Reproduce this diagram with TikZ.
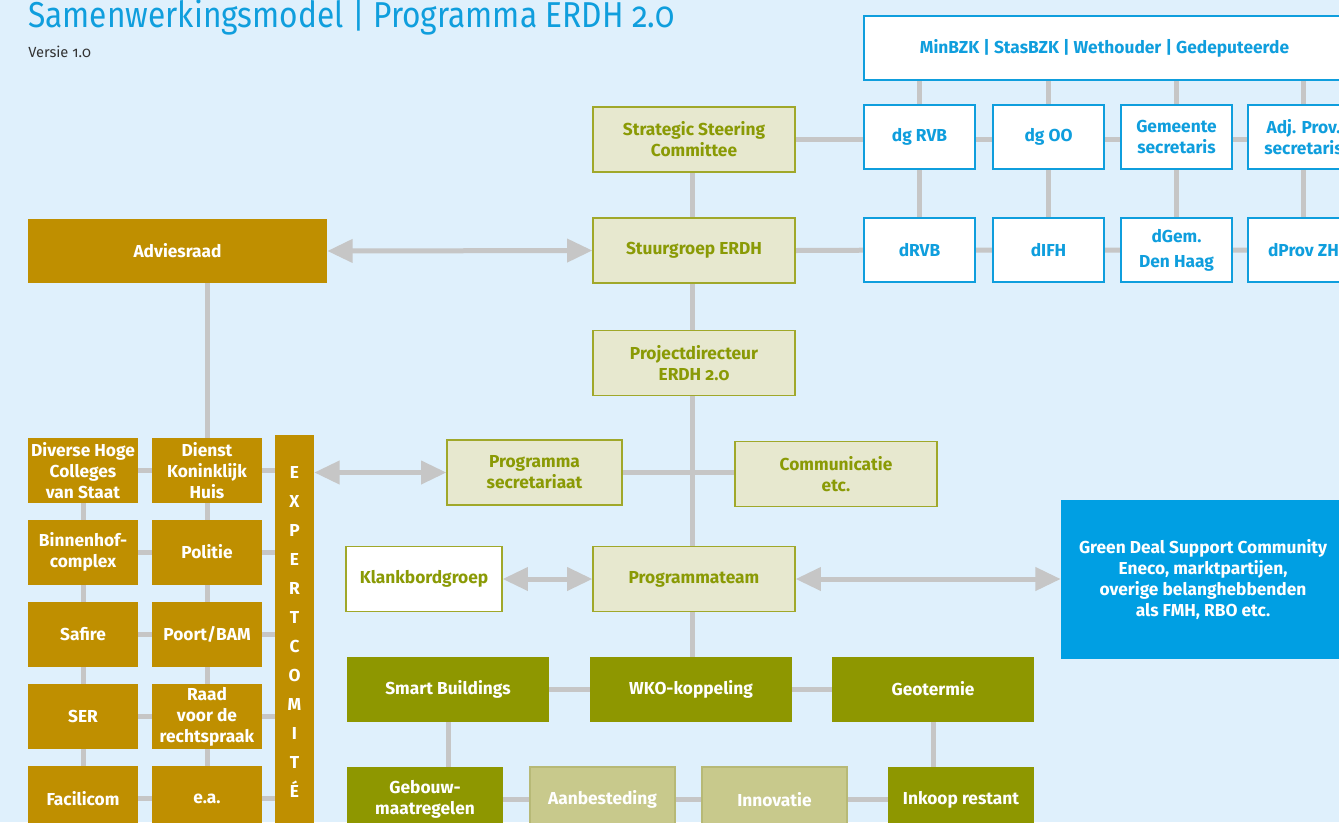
\documentclass[tikz,border=0pt]{standalone}
\usepackage{fontspec}
\setmainfont{Fira Sans}[Numbers=OldStyle,RawFeature={+onum}]
\newfontfamily\titlefont{Fira Sans}[FakeStretch=0.88,Numbers=OldStyle,RawFeature={+onum}]
\usetikzlibrary{arrows.meta,backgrounds}

\definecolor{bgblue}{HTML}{DFF0FC}
\definecolor{rijksblue}{HTML}{0F9EDD}
\definecolor{gdblue}{HTML}{009FE3}
\definecolor{gold}{HTML}{BF8F00}
\definecolor{olive}{HTML}{8E9700}
\definecolor{olivetext}{HTML}{8A9A05}
\definecolor{oliveline}{HTML}{A0A82A}
\definecolor{olivefill}{HTML}{E7E8CF}
\definecolor{olivelight}{HTML}{C8C98C}
\definecolor{olivelightline}{HTML}{B7B976}
\definecolor{conngray}{HTML}{C6C6C6}

\newcommand{\boxfont}{\bfseries\fontsize{13}{15.75}\selectfont}

\tikzset{
  box/.style={inner sep=0pt, align=center, font=\boxfont},
  bluebox/.style={box, draw=rijksblue, fill=white, text=rijksblue, line width=0.9pt,
    minimum width=83.25pt, minimum height=48pt},
  olivebox/.style={box, draw=oliveline, fill=olivefill, text=olivetext, line width=0.9pt,
    minimum width=151.5pt, minimum height=48.75pt},
  goldbox/.style={box, fill=gold, text=white, minimum width=82.5pt, minimum height=48.75pt},
  greenbox/.style={box, fill=olive, text=white, minimum width=151.5pt, minimum height=48.75pt},
  lightbox/.style={box, draw=olivelightline, fill=olivelight, text=white, line width=0.9pt,
    minimum width=108.75pt, minimum height=48.75pt},
  conn/.style={draw=conngray, line width=3.75pt},
  twoway/.style={conn, {Triangle[length=19pt,width=17pt]}-{Triangle[length=19pt,width=17pt]}}
}

\begin{document}
\begin{tikzpicture}[x=0.75pt,y=0.75pt,yscale=-1]
\useasboundingbox (0,0) rectangle (1339,822);
\begin{scope}[on background layer]
\fill[bgblue] (0,0) rectangle (1339,822);
\end{scope}
\clip (0,0) rectangle (1339,822);

% Text Node
\node[anchor=base west, inner sep=0pt, text=rijksblue, font=\titlefont\fontsize{27}{30}\selectfont] (title) at (28,27) {Samenwerkingsmodel | Programma ERDH 2.0};
% Text Node
\node[anchor=base west, inner sep=0pt, text=black!80, font=\fontsize{11}{13}\selectfont] (versie) at (28,57) {Versie 1.0};

%Shape: bestuurlijk (blue)
\node[bluebox, minimum width=360.75pt] (min) at (1104.5,48) {MinBZK | StasBZK | Wethouder | Gedeputeerde};
\node[bluebox] (dgrvb) at (919.5,137) {dg RVB};
\node[bluebox] (dgoo) at (1048.5,137) {dg OO};
\node[bluebox] (gemsec) at (1176.5,137) {Gemeente\\secretaris};
\node[bluebox] (adjprov) at (1303.5,137) {Adj. Prov.\\secretaris};
\node[bluebox] (drvb) at (919.5,250) {dRVB};
\node[bluebox] (difh) at (1048.5,250) {dIFH};
\node[bluebox] (dgem) at (1176.5,250) {dGem.\\[3pt]Den Haag};
\node[bluebox] (dprov) at (1303.5,250) {dProv ZH};

%Shape: programma (olive)
\node[olivebox] (ssc) at (694,139.5) {Strategic Steering\\Committee};
\node[olivebox] (stuur) at (694,250.5) {Stuurgroep ERDH};
\node[olivebox] (proj) at (694,363) {Projectdirecteur\\ERDH 2.0};
\node[olivebox, minimum width=131.25pt] (sec) at (534.5,472.5) {Programma\\secretariaat};
\node[olivebox] (comm) at (836,474) {Communicatie\\etc.};
\node[olivebox] (team) at (694,579) {Programmateam};
\node[olivebox, fill=white, minimum width=117pt] (klank) at (424,579) {Klankbordgroep};
\node[box, fill=gdblue, text=white, minimum width=213pt, minimum height=119.25pt] (green) at (1203,579.5) {Green Deal Support Community\\Eneco, marktpartijen,\\overige belanghebbenden\\als FMH, RBO etc.};

%Shape: advies (gold)
\node[goldbox, minimum width=224.25pt, minimum height=48pt] (adv) at (177.5,251) {Adviesraad};
\node[goldbox] (a1) at (83,470.5) {Diverse Hoge\\Colleges\\van Staat};
\node[goldbox] (b1) at (207,470.5) {Dienst\\Koninklijk\\Huis};
\node[goldbox] (a2) at (83,552) {Binnenhof-\\complex};
\node[goldbox] (b2) at (207,552) {Politie};
\node[goldbox] (a3) at (83,634.5) {Safire};
\node[goldbox] (b3) at (207,634.5) {Poort/BAM};
\node[goldbox] (a4) at (83,716.5) {SER};
\node[goldbox] (b4) at (207,716.5) {Raad\\voor de\\rechtspraak};
\node[goldbox] (a5) at (83,798.5) {Facilicom};
\node[goldbox] (b5) at (207,798.5) {e.a.};
\node[goldbox, minimum width=29.25pt, minimum height=294.75pt,
  font=\bfseries\fontsize{13}{21.75}\selectfont] (expert) at (294.5,631.5) {E\\X\\P\\E\\R\\T\\C\\O\\M\\I\\T\\É};

%Shape: projecten (green)
\node[greenbox] (sb) at (448,689) {Smart Buildings};
\node[greenbox] (wko) at (691,689) {WKO-koppeling};
\node[greenbox] (geo) at (933,689) {Geotermie};
\node[greenbox, minimum width=117pt] (geb) at (425,799.5) {Gebouw-\\maatregelen};
\node[lightbox] (aan) at (602.5,799.5) {Aanbesteding};
\node[lightbox] (inn) at (774.5,799.5) {Innovatie};
\node[greenbox, minimum width=109.5pt] (ink) at (961,799.5) {Inkoop restant};

\begin{scope}[on background layer]
%Straight Lines
\draw[conn] (min.south -| dgrvb) -- (dgrvb) -- (drvb);
\draw[conn] (min.south -| dgoo) -- (dgoo) -- (difh);
\draw[conn] (min.south -| gemsec) -- (gemsec) -- (dgem);
\draw[conn] (min.south -| adjprov) -- (adjprov) -- (dprov);
\draw[conn] (ssc.east) -- (ssc.east -| adjprov);
\draw[conn] (stuur.east) -- (drvb) -- (difh) -- (dgem) -- (dprov);
\draw[conn] (692,139.5) -- (692,689);
\draw[conn] (sec) -- (sec -| comm.west);
\draw[conn] (sb) -- (wko) -- (geo);
\draw[conn] (sb) -- (sb |- geb.north);
\draw[conn] (geo) -- (geo |- ink.north);
\draw[conn] (geb) -- (aan) -- (inn) -- (ink);
\draw[conn] (b1 |- adv.south) -- (b1);
\draw[conn] (a1) -- (a5);
\draw[conn] (b1) -- (b5);
\foreach \r in {1,...,5}
  \draw[conn] (a\r) -- (b\r) -- (b\r -| expert.west);
\end{scope}

%Arrows
\draw[twoway] (adv.east) -- (stuur.west);
\draw[twoway] (expert.east |- sec) -- (sec.west);
\draw[twoway] (klank.east) -- (team.west);
\draw[twoway] (team.east) -- (team.east -| green.west);

\end{tikzpicture}
\end{document}
